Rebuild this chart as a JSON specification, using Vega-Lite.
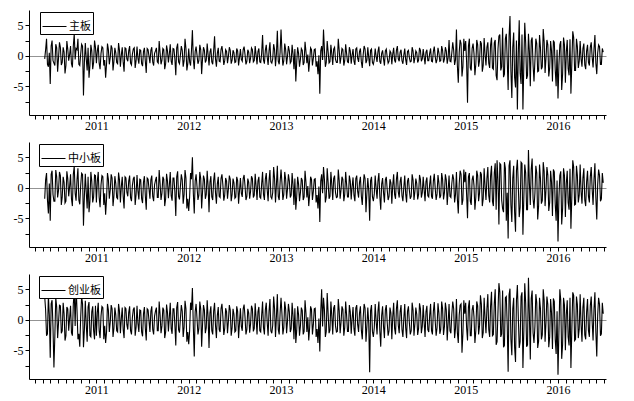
{
"$schema": "https://vega.github.io/schema/vega-lite/v6.json",
"padding": {"left": 13, "top": 10, "right": 5, "bottom": 5},
"background": "white",
"config": {
  "view": {"stroke": null},
  "font": "Liberation Serif",
  "axis": {"domainColor": "black", "tickColor": "black", "labelColor": "black", "labelFont": "Liberation Serif", "labelFontSize": 12, "grid": false, "title": null, "domainWidth": 1, "tickWidth": 1, "tickSize": 4, "labelOverlap": false}
},
"datasets": {"r": [
{"t":2010.44,"a":-0.5,"b":-1.8,"c":3.8},
{"t":2010.46,"a":2.8,"b":2.4,"c":-2.6},
{"t":2010.48,"a":-1.8,"b":-4.2,"c":4.0},
{"t":2010.50,"a":-4.6,"b":-5.4,"c":-6.2},
{"t":2010.52,"a":2.5,"b":2.8,"c":3.2},
{"t":2010.54,"a":-1.2,"b":-2.2,"c":-7.8},
{"t":2010.56,"a":1.9,"b":2.9,"c":3.6},
{"t":2010.58,"a":-2.6,"b":-1.6,"c":-3.0},
{"t":2010.60,"a":2.2,"b":2.6,"c":2.4},
{"t":2010.62,"a":-1.5,"b":-2.8,"c":-2.2},
{"t":2010.64,"a":1.4,"b":1.8,"c":2.8},
{"t":2010.66,"a":-2.9,"b":-2.5,"c":-3.4},
{"t":2010.68,"a":2.4,"b":2.7,"c":2.1},
{"t":2010.70,"a":-0.8,"b":-1.4,"c":-1.8},
{"t":2010.72,"a":1.6,"b":2.2,"c":2.3},
{"t":2010.74,"a":-1.9,"b":-3.0,"c":-2.6},
{"t":2010.76,"a":3.6,"b":3.5,"c":4.6},
{"t":2010.78,"a":1.2,"b":-2.1,"c":5.6},
{"t":2010.80,"a":2.8,"b":3.2,"c":-3.2},
{"t":2010.82,"a":-1.6,"b":-2.7,"c":-4.4},
{"t":2010.84,"a":1.9,"b":2.4,"c":3.8},
{"t":2010.86,"a":-6.5,"b":-6.2,"c":-4.5},
{"t":2010.88,"a":2.1,"b":2.3,"c":3.1},
{"t":2010.90,"a":-2.4,"b":-3.4,"c":-3.6},
{"t":2010.92,"a":-3.6,"b":-4.0,"c":2.9},
{"t":2010.94,"a":1.8,"b":2.6,"c":-2.8},
{"t":2010.96,"a":-2.2,"b":-2.4,"c":2.2},
{"t":2010.98,"a":2.5,"b":2.1,"c":-3.2},
{"t":2011.00,"a":-1.2,"b":-2.4,"c":-2.6},
{"t":2011.02,"a":1.8,"b":2.6,"c":2.8},
{"t":2011.04,"a":-2.2,"b":-3.2,"c":-3.0},
{"t":2011.06,"a":1.5,"b":2.0,"c":2.2},
{"t":2011.08,"a":-1.6,"b":-2.8,"c":-3.2},
{"t":2011.10,"a":-3.6,"b":-4.4,"c":-3.8},
{"t":2011.12,"a":2.0,"b":2.4,"c":2.6},
{"t":2011.14,"a":-1.4,"b":-1.8,"c":-2.0},
{"t":2011.16,"a":1.7,"b":2.2,"c":2.4},
{"t":2011.18,"a":-2.4,"b":-3.0,"c":-2.8},
{"t":2011.20,"a":1.3,"b":1.9,"c":2.0},
{"t":2011.22,"a":-1.1,"b":-1.6,"c":-1.8},
{"t":2011.24,"a":2.1,"b":2.5,"c":2.6},
{"t":2011.26,"a":-1.8,"b":-2.4,"c":-2.2},
{"t":2011.28,"a":1.4,"b":1.8,"c":2.0},
{"t":2011.30,"a":-2.6,"b":-3.4,"c":-3.0},
{"t":2011.32,"a":1.2,"b":1.6,"c":1.8},
{"t":2011.34,"a":-0.9,"b":-1.4,"c":-1.6},
{"t":2011.36,"a":1.6,"b":2.0,"c":2.2},
{"t":2011.38,"a":-1.5,"b":-2.2,"c":-2.4},
{"t":2011.40,"a":1.1,"b":1.5,"c":1.7},
{"t":2011.42,"a":-2.0,"b":-2.8,"c":-2.6},
{"t":2011.44,"a":1.5,"b":2.1,"c":2.3},
{"t":2011.46,"a":-1.3,"b":-1.9,"c":-2.0},
{"t":2011.48,"a":0.9,"b":1.3,"c":1.5},
{"t":2011.50,"a":-1.7,"b":-2.5,"c":-2.7},
{"t":2011.52,"a":1.3,"b":1.9,"c":2.1},
{"t":2011.54,"a":-2.8,"b":-3.6,"c":-3.4},
{"t":2011.56,"a":1.0,"b":1.4,"c":1.6},
{"t":2011.58,"a":-1.2,"b":-1.8,"c":-2.0},
{"t":2011.60,"a":1.4,"b":2.0,"c":2.2},
{"t":2011.62,"a":-1.6,"b":-2.2,"c":-2.4},
{"t":2011.64,"a":0.8,"b":1.2,"c":1.4},
{"t":2011.66,"a":-1.0,"b":-1.6,"c":-1.8},
{"t":2011.68,"a":2.4,"b":2.9,"c":3.0},
{"t":2011.70,"a":-1.4,"b":-2.0,"c":-2.2},
{"t":2011.72,"a":1.2,"b":1.8,"c":2.0},
{"t":2011.74,"a":-2.2,"b":-3.0,"c":-3.0},
{"t":2011.76,"a":1.7,"b":2.3,"c":2.5},
{"t":2011.78,"a":-1.1,"b":-1.7,"c":-1.9},
{"t":2011.80,"a":1.9,"b":2.6,"c":2.8},
{"t":2011.82,"a":-1.5,"b":-2.1,"c":-2.3},
{"t":2011.84,"a":1.1,"b":1.6,"c":1.8},
{"t":2011.86,"a":-3.2,"b":-4.6,"c":-4.2},
{"t":2011.88,"a":2.0,"b":2.7,"c":2.9},
{"t":2011.90,"a":-1.3,"b":-1.9,"c":-2.1},
{"t":2011.92,"a":1.6,"b":2.2,"c":2.4},
{"t":2011.94,"a":-1.8,"b":-2.6,"c":-2.8},
{"t":2011.96,"a":2.8,"b":2.9,"c":3.1},
{"t":2011.98,"a":-2.4,"b":-3.4,"c":-3.6},
{"t":2012.00,"a":1.2,"b":-3.8,"c":-4.0},
{"t":2012.02,"a":-1.6,"b":2.4,"c":2.8},
{"t":2012.04,"a":4.2,"b":5.0,"c":5.2},
{"t":2012.06,"a":-2.2,"b":-4.2,"c":-6.0},
{"t":2012.08,"a":1.5,"b":2.2,"c":2.6},
{"t":2012.10,"a":-1.3,"b":-2.0,"c":-2.4},
{"t":2012.12,"a":1.8,"b":2.6,"c":3.0},
{"t":2012.14,"a":-3.0,"b":-3.4,"c":-4.4},
{"t":2012.16,"a":1.4,"b":2.0,"c":2.4},
{"t":2012.18,"a":-1.1,"b":-1.8,"c":-2.2},
{"t":2012.20,"a":2.0,"b":2.8,"c":3.2},
{"t":2012.22,"a":-1.6,"b":-4.0,"c":-4.6},
{"t":2012.24,"a":1.2,"b":1.9,"c":2.2},
{"t":2012.26,"a":-1.4,"b":-2.0,"c":-2.4},
{"t":2012.28,"a":3.2,"b":2.5,"c":2.8},
{"t":2012.30,"a":-1.8,"b":-2.6,"c":-3.0},
{"t":2012.32,"a":1.3,"b":1.8,"c":2.1},
{"t":2012.34,"a":-1.0,"b":-1.6,"c":-2.0},
{"t":2012.36,"a":1.6,"b":2.2,"c":2.6},
{"t":2012.38,"a":-1.5,"b":-2.1,"c":-2.5},
{"t":2012.40,"a":1.0,"b":1.6,"c":1.9},
{"t":2012.42,"a":-1.2,"b":-1.8,"c":-2.2},
{"t":2012.44,"a":1.4,"b":2.0,"c":2.4},
{"t":2012.46,"a":-1.3,"b":-2.2,"c":-2.6},
{"t":2012.48,"a":0.9,"b":1.5,"c":1.8},
{"t":2012.50,"a":-1.1,"b":-1.7,"c":-2.0},
{"t":2012.52,"a":1.2,"b":1.8,"c":2.2},
{"t":2012.54,"a":-1.6,"b":-2.6,"c":-3.0},
{"t":2012.56,"a":1.1,"b":1.6,"c":1.9},
{"t":2012.58,"a":-0.9,"b":-1.5,"c":-1.8},
{"t":2012.60,"a":1.5,"b":2.1,"c":2.5},
{"t":2012.62,"a":-1.4,"b":-2.0,"c":-2.4},
{"t":2012.64,"a":1.0,"b":1.5,"c":1.8},
{"t":2012.66,"a":-1.2,"b":-1.8,"c":-2.1},
{"t":2012.68,"a":1.3,"b":1.9,"c":2.3},
{"t":2012.70,"a":-1.0,"b":-1.6,"c":-1.9},
{"t":2012.72,"a":1.6,"b":2.3,"c":2.7},
{"t":2012.74,"a":-1.4,"b":-2.0,"c":-2.4},
{"t":2012.76,"a":1.2,"b":1.8,"c":2.1},
{"t":2012.78,"a":-1.1,"b":-1.7,"c":-2.0},
{"t":2012.80,"a":3.4,"b":2.6,"c":3.0},
{"t":2012.82,"a":-1.3,"b":-2.0,"c":-2.4},
{"t":2012.84,"a":1.8,"b":2.4,"c":2.8},
{"t":2012.86,"a":-1.5,"b":-2.2,"c":-2.6},
{"t":2012.88,"a":2.2,"b":2.9,"c":3.4},
{"t":2012.90,"a":-1.2,"b":-1.8,"c":-2.2},
{"t":2012.92,"a":1.9,"b":3.4,"c":3.8},
{"t":2012.94,"a":-1.7,"b":-2.4,"c":-2.8},
{"t":2012.96,"a":4.1,"b":3.6,"c":4.2},
{"t":2012.98,"a":-1.4,"b":-2.0,"c":-2.4},
{"t":2013.00,"a":4.3,"b":3.0,"c":3.6},
{"t":2013.02,"a":-1.6,"b":-2.0,"c":-2.4},
{"t":2013.04,"a":2.0,"b":2.6,"c":3.0},
{"t":2013.06,"a":-1.4,"b":-1.8,"c":-2.2},
{"t":2013.08,"a":1.6,"b":2.2,"c":2.6},
{"t":2013.10,"a":-1.2,"b":-1.6,"c":-2.0},
{"t":2013.12,"a":1.8,"b":2.4,"c":2.8},
{"t":2013.14,"a":-2.2,"b":-2.8,"c":-3.2},
{"t":2013.16,"a":-4.2,"b":-3.6,"c":-3.8},
{"t":2013.18,"a":1.4,"b":1.8,"c":2.2},
{"t":2013.20,"a":-1.8,"b":-2.2,"c":-2.6},
{"t":2013.22,"a":1.2,"b":1.6,"c":2.0},
{"t":2013.24,"a":-1.5,"b":-2.0,"c":-2.4},
{"t":2013.26,"a":2.3,"b":2.8,"c":3.2},
{"t":2013.28,"a":-1.2,"b":-1.6,"c":-2.0},
{"t":2013.30,"a":-2.6,"b":-3.0,"c":-3.4},
{"t":2013.32,"a":1.3,"b":1.8,"c":2.2},
{"t":2013.34,"a":-1.6,"b":-2.0,"c":-2.4},
{"t":2013.36,"a":1.0,"b":1.4,"c":1.8},
{"t":2013.38,"a":-1.8,"b":-2.4,"c":-2.8},
{"t":2013.40,"a":-3.0,"b":-3.4,"c":-3.8},
{"t":2013.42,"a":-6.2,"b":-5.6,"c":-5.2},
{"t":2013.44,"a":1.6,"b":2.2,"c":5.0},
{"t":2013.46,"a":4.3,"b":3.4,"c":3.6},
{"t":2013.48,"a":-1.8,"b":-2.4,"c":-2.8},
{"t":2013.50,"a":2.4,"b":3.2,"c":4.4},
{"t":2013.52,"a":-1.2,"b":-1.8,"c":-2.2},
{"t":2013.54,"a":1.8,"b":2.6,"c":3.0},
{"t":2013.56,"a":-1.5,"b":-2.0,"c":-2.4},
{"t":2013.58,"a":1.4,"b":2.0,"c":2.4},
{"t":2013.60,"a":-1.1,"b":-1.6,"c":-2.0},
{"t":2013.62,"a":2.8,"b":3.0,"c":3.4},
{"t":2013.64,"a":-1.3,"b":-1.8,"c":-2.2},
{"t":2013.66,"a":1.2,"b":1.8,"c":2.2},
{"t":2013.68,"a":-1.6,"b":-2.2,"c":-2.6},
{"t":2013.70,"a":1.9,"b":2.6,"c":3.0},
{"t":2013.72,"a":-1.0,"b":-1.5,"c":-1.9},
{"t":2013.74,"a":1.4,"b":2.0,"c":2.4},
{"t":2013.76,"a":-1.3,"b":-1.9,"c":-2.3},
{"t":2013.78,"a":1.1,"b":1.7,"c":2.1},
{"t":2013.80,"a":-1.5,"b":-2.2,"c":-2.6},
{"t":2013.82,"a":1.3,"b":2.0,"c":2.4},
{"t":2013.84,"a":-1.0,"b":-1.6,"c":-2.0},
{"t":2013.86,"a":1.2,"b":1.8,"c":2.2},
{"t":2013.88,"a":-2.0,"b":-2.8,"c":-3.2},
{"t":2013.90,"a":1.6,"b":2.2,"c":2.6},
{"t":2013.92,"a":-1.2,"b":-4.0,"c":-3.6},
{"t":2013.94,"a":1.4,"b":1.6,"c":2.0},
{"t":2013.96,"a":-1.7,"b":-5.4,"c":-8.6},
{"t":2013.98,"a":1.1,"b":1.8,"c":2.4},
{"t":2014.00,"a":-1.4,"b":-2.2,"c":-2.8},
{"t":2014.02,"a":1.2,"b":2.0,"c":2.6},
{"t":2014.04,"a":-1.0,"b":-1.8,"c":-2.4},
{"t":2014.06,"a":1.5,"b":2.4,"c":3.0},
{"t":2014.08,"a":-1.3,"b":-3.6,"c":-4.4},
{"t":2014.10,"a":0.9,"b":1.6,"c":2.2},
{"t":2014.12,"a":-1.6,"b":-2.4,"c":-3.0},
{"t":2014.14,"a":1.1,"b":1.8,"c":2.4},
{"t":2014.16,"a":-1.2,"b":-2.0,"c":-2.6},
{"t":2014.18,"a":0.8,"b":1.4,"c":2.0},
{"t":2014.20,"a":-1.4,"b":-2.6,"c":-3.2},
{"t":2014.22,"a":1.3,"b":2.2,"c":2.8},
{"t":2014.24,"a":-1.1,"b":-1.8,"c":-2.4},
{"t":2014.26,"a":1.6,"b":2.6,"c":3.2},
{"t":2014.28,"a":-0.9,"b":-1.6,"c":-2.2},
{"t":2014.30,"a":1.0,"b":1.8,"c":2.4},
{"t":2014.32,"a":-1.3,"b":-2.2,"c":-2.8},
{"t":2014.34,"a":1.2,"b":2.0,"c":2.6},
{"t":2014.36,"a":-1.5,"b":-2.4,"c":-3.0},
{"t":2014.38,"a":0.9,"b":1.6,"c":2.2},
{"t":2014.40,"a":-1.0,"b":-1.8,"c":-2.4},
{"t":2014.42,"a":1.4,"b":2.2,"c":2.8},
{"t":2014.44,"a":-1.2,"b":-2.0,"c":-2.6},
{"t":2014.46,"a":0.8,"b":1.5,"c":2.0},
{"t":2014.48,"a":-1.1,"b":-1.9,"c":-2.5},
{"t":2014.50,"a":1.3,"b":2.1,"c":2.7},
{"t":2014.52,"a":-0.9,"b":-1.6,"c":-2.2},
{"t":2014.54,"a":1.1,"b":1.8,"c":2.4},
{"t":2014.56,"a":-1.4,"b":-2.2,"c":-2.8},
{"t":2014.58,"a":1.0,"b":1.7,"c":2.3},
{"t":2014.60,"a":-0.8,"b":-1.5,"c":-2.0},
{"t":2014.62,"a":1.2,"b":2.0,"c":2.6},
{"t":2014.64,"a":-1.0,"b":-1.8,"c":-2.4},
{"t":2014.66,"a":1.5,"b":2.3,"c":2.9},
{"t":2014.68,"a":-1.2,"b":-2.0,"c":-2.6},
{"t":2014.70,"a":1.3,"b":2.1,"c":2.7},
{"t":2014.72,"a":-0.9,"b":-1.7,"c":-2.3},
{"t":2014.74,"a":1.6,"b":2.4,"c":3.0},
{"t":2014.76,"a":-1.1,"b":-1.9,"c":-2.5},
{"t":2014.78,"a":1.4,"b":2.2,"c":2.8},
{"t":2014.80,"a":-1.3,"b":-2.8,"c":-3.4},
{"t":2014.82,"a":2.6,"b":2.0,"c":2.6},
{"t":2014.84,"a":-1.0,"b":-1.6,"c":-2.2},
{"t":2014.86,"a":2.2,"b":2.2,"c":3.0},
{"t":2014.88,"a":-1.5,"b":-2.4,"c":-3.0},
{"t":2014.90,"a":4.3,"b":2.6,"c":3.4},
{"t":2014.92,"a":-4.4,"b":-4.2,"c":-3.8},
{"t":2014.94,"a":2.6,"b":2.8,"c":2.4},
{"t":2014.96,"a":-3.4,"b":-2.8,"c":-5.4},
{"t":2014.98,"a":2.8,"b":3.0,"c":3.2},
{"t":2015.00,"a":2.4,"b":2.6,"c":2.8},
{"t":2015.02,"a":-7.7,"b":-5.0,"c":-3.4},
{"t":2015.04,"a":2.8,"b":2.4,"c":3.2},
{"t":2015.06,"a":-2.4,"b":-2.8,"c":-2.6},
{"t":2015.08,"a":2.0,"b":2.0,"c":2.4},
{"t":2015.10,"a":-3.2,"b":-3.6,"c":-3.8},
{"t":2015.12,"a":2.6,"b":2.8,"c":3.0},
{"t":2015.14,"a":-1.8,"b":-2.2,"c":-2.4},
{"t":2015.16,"a":2.4,"b":2.6,"c":4.0},
{"t":2015.18,"a":-2.6,"b":-3.0,"c":-3.0},
{"t":2015.20,"a":2.9,"b":3.2,"c":3.6},
{"t":2015.22,"a":-1.6,"b":-2.0,"c":-2.2},
{"t":2015.24,"a":2.2,"b":3.4,"c":4.2},
{"t":2015.26,"a":-2.0,"b":-2.4,"c":-2.8},
{"t":2015.28,"a":3.0,"b":3.6,"c":4.6},
{"t":2015.30,"a":-2.2,"b":-3.0,"c":-2.4},
{"t":2015.32,"a":2.6,"b":4.0,"c":5.0},
{"t":2015.34,"a":-4.0,"b":4.5,"c":-3.6},
{"t":2015.36,"a":3.2,"b":-6.0,"c":6.0},
{"t":2015.38,"a":-2.4,"b":3.8,"c":-2.8},
{"t":2015.40,"a":4.6,"b":-3.4,"c":4.8},
{"t":2015.42,"a":-3.0,"b":4.2,"c":-4.2},
{"t":2015.44,"a":3.6,"b":-5.4,"c":3.8},
{"t":2015.46,"a":-5.6,"b":-8.3,"c":-8.5},
{"t":2015.48,"a":6.5,"b":4.5,"c":5.1},
{"t":2015.50,"a":-6.9,"b":-5.6,"c":-5.8},
{"t":2015.52,"a":3.8,"b":3.6,"c":3.6},
{"t":2015.54,"a":-5.2,"b":-7.2,"c":-6.9},
{"t":2015.56,"a":-8.8,"b":4.6,"c":5.7},
{"t":2015.58,"a":5.8,"b":-4.8,"c":-4.6},
{"t":2015.60,"a":-4.6,"b":4.2,"c":3.8},
{"t":2015.62,"a":-8.8,"b":-7.7,"c":-7.9},
{"t":2015.64,"a":5.4,"b":3.8,"c":6.0},
{"t":2015.66,"a":-3.8,"b":-3.6,"c":-4.4},
{"t":2015.68,"a":3.6,"b":6.2,"c":6.9},
{"t":2015.70,"a":-5.0,"b":-2.8,"c":-6.5},
{"t":2015.72,"a":3.0,"b":4.8,"c":4.8},
{"t":2015.74,"a":-4.2,"b":-3.4,"c":-3.8},
{"t":2015.76,"a":2.8,"b":3.6,"c":4.2},
{"t":2015.78,"a":-2.6,"b":-5.2,"c":-4.6},
{"t":2015.80,"a":3.4,"b":3.8,"c":3.6},
{"t":2015.82,"a":-2.2,"b":-2.6,"c":-3.2},
{"t":2015.84,"a":4.4,"b":4.2,"c":5.0},
{"t":2015.86,"a":-2.8,"b":-3.0,"c":-3.6},
{"t":2015.88,"a":2.6,"b":3.4,"c":3.8},
{"t":2015.90,"a":-3.4,"b":-3.8,"c":-4.5},
{"t":2015.92,"a":2.4,"b":2.8,"c":3.4},
{"t":2015.94,"a":-4.2,"b":-4.6,"c":-4.8},
{"t":2015.96,"a":2.2,"b":2.6,"c":3.0},
{"t":2015.98,"a":-5.0,"b":-5.4,"c":-5.6},
{"t":2016.00,"a":-7.0,"b":-8.8,"c":-9.0},
{"t":2016.02,"a":1.8,"b":2.0,"c":5.0},
{"t":2016.04,"a":-5.6,"b":-6.0,"c":-6.4},
{"t":2016.06,"a":3.0,"b":3.2,"c":3.6},
{"t":2016.08,"a":-4.4,"b":-4.8,"c":-5.0},
{"t":2016.10,"a":2.6,"b":2.8,"c":3.2},
{"t":2016.12,"a":-3.2,"b":-3.6,"c":-4.2},
{"t":2016.14,"a":-6.2,"b":-6.7,"c":-7.9},
{"t":2016.16,"a":4.0,"b":4.5,"c":4.5},
{"t":2016.18,"a":-2.4,"b":-2.8,"c":-3.4},
{"t":2016.20,"a":2.8,"b":3.6,"c":3.8},
{"t":2016.22,"a":-2.0,"b":-2.4,"c":-3.0},
{"t":2016.24,"a":2.4,"b":3.8,"c":4.2},
{"t":2016.26,"a":-1.8,"b":-2.6,"c":-3.6},
{"t":2016.28,"a":2.0,"b":3.2,"c":3.6},
{"t":2016.30,"a":-2.2,"b":-3.0,"c":-3.2},
{"t":2016.32,"a":1.8,"b":2.8,"c":3.4},
{"t":2016.34,"a":-1.6,"b":-2.4,"c":-2.8},
{"t":2016.36,"a":2.2,"b":3.4,"c":3.8},
{"t":2016.38,"a":-1.9,"b":-2.8,"c":-3.4},
{"t":2016.40,"a":3.4,"b":4.0,"c":4.5},
{"t":2016.42,"a":-3.0,"b":-5.2,"c":-6.0},
{"t":2016.44,"a":1.8,"b":3.0,"c":3.6},
{"t":2016.46,"a":-1.4,"b":-2.2,"c":-2.6},
{"t":2016.48,"a":1.2,"b":2.4,"c":2.8},
{"t":2010.45,"a":1.0,"b":1.3,"c":1.6},
{"t":2010.47,"a":-1.4,"b":-2.0,"c":-2.3},
{"t":2010.49,"a":0.5,"b":0.7,"c":0.8},
{"t":2010.51,"a":1.6,"b":2.2,"c":2.6},
{"t":2010.53,"a":-0.8,"b":-1.1,"c":-1.3},
{"t":2010.55,"a":-1.6,"b":-2.2,"c":-2.6},
{"t":2010.57,"a":1.3,"b":1.8,"c":2.1},
{"t":2010.59,"a":-0.3,"b":-0.4,"c":-0.5},
{"t":2010.61,"a":1.4,"b":2.0,"c":2.3},
{"t":2010.63,"a":-1.1,"b":-1.5,"c":-1.8},
{"t":2010.65,"a":0.6,"b":0.9,"c":1.0},
{"t":2010.67,"a":-1.6,"b":-2.2,"c":-2.6},
{"t":2010.69,"a":1.1,"b":1.5,"c":1.8},
{"t":2010.71,"a":0.2,"b":0.2,"c":0.3},
{"t":2010.73,"a":-1.3,"b":-1.8,"c":-2.1},
{"t":2010.75,"a":1.6,"b":2.2,"c":2.6},
{"t":2010.77,"a":-0.6,"b":-0.9,"c":-1.0},
{"t":2010.79,"a":1.0,"b":1.3,"c":1.6},
{"t":2010.81,"a":-1.4,"b":-2.0,"c":-2.3},
{"t":2010.83,"a":0.3,"b":0.4,"c":0.5},
{"t":2010.85,"a":1.6,"b":2.2,"c":2.6},
{"t":2010.87,"a":-1.0,"b":-1.3,"c":-1.6},
{"t":2010.89,"a":-0.5,"b":-0.7,"c":-0.8},
{"t":2010.91,"a":1.3,"b":1.8,"c":2.1},
{"t":2010.93,"a":-1.6,"b":-2.2,"c":-2.6},
{"t":2010.95,"a":0.8,"b":1.1,"c":1.3},
{"t":2010.97,"a":-1.1,"b":-1.5,"c":-1.8},
{"t":2010.99,"a":1.4,"b":2.0,"c":2.3},
{"t":2011.01,"a":0.8,"b":1.1,"c":1.2},
{"t":2011.03,"a":-1.2,"b":-1.6,"c":-1.8},
{"t":2011.05,"a":0.4,"b":0.5,"c":0.6},
{"t":2011.07,"a":1.3,"b":1.8,"c":2.0},
{"t":2011.09,"a":-0.7,"b":-0.9,"c":-1.0},
{"t":2011.11,"a":-1.3,"b":-1.8,"c":-2.0},
{"t":2011.13,"a":1.0,"b":1.4,"c":1.6},
{"t":2011.15,"a":-0.3,"b":-0.4,"c":-0.4},
{"t":2011.17,"a":1.2,"b":1.6,"c":1.8},
{"t":2011.19,"a":-0.9,"b":-1.3,"c":-1.4},
{"t":2011.21,"a":0.5,"b":0.7,"c":0.8},
{"t":2011.23,"a":-1.3,"b":-1.8,"c":-2.0},
{"t":2011.25,"a":0.9,"b":1.3,"c":1.4},
{"t":2011.27,"a":0.1,"b":0.2,"c":0.2},
{"t":2011.29,"a":-1.0,"b":-1.4,"c":-1.6},
{"t":2011.31,"a":1.3,"b":1.8,"c":2.0},
{"t":2011.33,"a":-0.5,"b":-0.7,"c":-0.8},
{"t":2011.35,"a":0.8,"b":1.1,"c":1.2},
{"t":2011.37,"a":-1.2,"b":-1.6,"c":-1.8},
{"t":2011.39,"a":0.3,"b":0.4,"c":0.4},
{"t":2011.41,"a":1.3,"b":1.8,"c":2.0},
{"t":2011.43,"a":-0.8,"b":-1.1,"c":-1.2},
{"t":2011.45,"a":-0.4,"b":-0.5,"c":-0.6},
{"t":2011.47,"a":1.0,"b":1.4,"c":1.6},
{"t":2011.49,"a":-1.3,"b":-1.8,"c":-2.0},
{"t":2011.51,"a":0.7,"b":0.9,"c":1.0},
{"t":2011.53,"a":-0.9,"b":-1.3,"c":-1.4},
{"t":2011.55,"a":1.2,"b":1.6,"c":1.8},
{"t":2011.57,"a":-0.1,"b":-0.2,"c":-0.2},
{"t":2011.59,"a":0.9,"b":1.3,"c":1.4},
{"t":2011.61,"a":-1.0,"b":-1.4,"c":-1.6},
{"t":2011.63,"a":0.4,"b":0.5,"c":0.6},
{"t":2011.65,"a":1.3,"b":1.8,"c":2.0},
{"t":2011.67,"a":-1.2,"b":-1.6,"c":-1.8},
{"t":2011.69,"a":0.5,"b":0.7,"c":0.8},
{"t":2011.71,"a":-0.7,"b":-0.9,"c":-1.0},
{"t":2011.73,"a":1.0,"b":1.4,"c":1.6},
{"t":2011.75,"a":-1.3,"b":-1.8,"c":-2.0},
{"t":2011.77,"a":0.8,"b":1.1,"c":1.2},
{"t":2011.79,"a":0.3,"b":0.4,"c":0.4},
{"t":2011.81,"a":-0.9,"b":-1.3,"c":-1.4},
{"t":2011.83,"a":1.2,"b":1.6,"c":1.8},
{"t":2011.85,"a":-0.5,"b":-0.7,"c":-0.8},
{"t":2011.87,"a":1.3,"b":1.8,"c":2.0},
{"t":2011.89,"a":-1.0,"b":-1.4,"c":-1.6},
{"t":2011.91,"a":0.1,"b":0.2,"c":0.2},
{"t":2011.93,"a":0.9,"b":1.3,"c":1.4},
{"t":2011.95,"a":-0.8,"b":-1.1,"c":-1.2},
{"t":2011.97,"a":1.2,"b":1.6,"c":1.8},
{"t":2011.99,"a":-1.3,"b":-1.8,"c":-2.0},
{"t":2012.01,"a":-1.0,"b":-1.5,"c":-1.8},
{"t":2012.03,"a":0.9,"b":1.4,"c":1.6},
{"t":2012.05,"a":-0.6,"b":-0.9,"c":-1.1},
{"t":2012.07,"a":0.7,"b":1.1,"c":1.3},
{"t":2012.09,"a":0.1,"b":0.2,"c":0.2},
{"t":2012.11,"a":-0.8,"b":-1.2,"c":-1.4},
{"t":2012.13,"a":1.0,"b":1.5,"c":1.8},
{"t":2012.15,"a":-0.4,"b":-0.6,"c":-0.7},
{"t":2012.17,"a":0.9,"b":1.4,"c":1.6},
{"t":2012.19,"a":-0.7,"b":-1.1,"c":-1.3},
{"t":2012.21,"a":0.2,"b":0.3,"c":0.4},
{"t":2012.23,"a":0.6,"b":0.9,"c":1.1},
{"t":2012.25,"a":-1.0,"b":-1.5,"c":-1.8},
{"t":2012.27,"a":0.8,"b":1.2,"c":1.4},
{"t":2012.29,"a":-0.5,"b":-0.8,"c":-0.9},
{"t":2012.31,"a":0.4,"b":0.6,"c":0.7},
{"t":2012.33,"a":-0.9,"b":-1.4,"c":-1.6},
{"t":2012.35,"a":1.0,"b":1.5,"c":1.8},
{"t":2012.37,"a":0.3,"b":0.5,"c":0.5},
{"t":2012.39,"a":-0.8,"b":-1.2,"c":-1.4},
{"t":2012.41,"a":0.7,"b":1.1,"c":1.3},
{"t":2012.43,"a":-0.1,"b":-0.2,"c":-0.2},
{"t":2012.45,"a":0.9,"b":1.4,"c":1.6},
{"t":2012.47,"a":-0.7,"b":-1.1,"c":-1.3},
{"t":2012.49,"a":0.5,"b":0.8,"c":0.9},
{"t":2012.51,"a":-1.0,"b":-1.5,"c":-1.8},
{"t":2012.53,"a":0.8,"b":1.2,"c":1.4},
{"t":2012.55,"a":-0.3,"b":-0.5,"c":-0.5},
{"t":2012.57,"a":-0.6,"b":-0.9,"c":-1.1},
{"t":2012.59,"a":1.0,"b":1.5,"c":1.8},
{"t":2012.61,"a":0.2,"b":0.3,"c":0.4},
{"t":2012.63,"a":-0.9,"b":-1.4,"c":-1.6},
{"t":2012.65,"a":0.6,"b":0.9,"c":1.1},
{"t":2012.67,"a":-0.4,"b":-0.6,"c":-0.7},
{"t":2012.69,"a":1.0,"b":1.5,"c":1.8},
{"t":2012.71,"a":-0.8,"b":-1.2,"c":-1.4},
{"t":2012.73,"a":0.1,"b":0.2,"c":0.2},
{"t":2012.75,"a":0.7,"b":1.1,"c":1.3},
{"t":2012.77,"a":-1.0,"b":-1.5,"c":-1.8},
{"t":2012.79,"a":0.4,"b":0.6,"c":0.7},
{"t":2012.81,"a":-0.7,"b":-1.1,"c":-1.3},
{"t":2012.83,"a":0.9,"b":1.4,"c":1.6},
{"t":2012.85,"a":-0.2,"b":-0.3,"c":-0.4},
{"t":2012.87,"a":0.8,"b":1.2,"c":1.4},
{"t":2012.89,"a":-1.0,"b":-1.5,"c":-1.8},
{"t":2012.91,"a":-0.5,"b":-0.8,"c":-0.9},
{"t":2012.93,"a":1.0,"b":1.5,"c":1.8},
{"t":2012.95,"a":0.3,"b":0.5,"c":0.5},
{"t":2012.97,"a":-0.9,"b":-1.4,"c":-1.6},
{"t":2012.99,"a":0.6,"b":0.9,"c":1.1},
{"t":2013.01,"a":0.6,"b":0.8,"c":1.0},
{"t":2013.03,"a":-0.8,"b":-1.1,"c":-1.3},
{"t":2013.05,"a":1.0,"b":1.4,"c":1.7},
{"t":2013.07,"a":-0.1,"b":-0.2,"c":-0.2},
{"t":2013.09,"a":0.8,"b":1.1,"c":1.3},
{"t":2013.11,"a":-0.9,"b":-1.2,"c":-1.5},
{"t":2013.13,"a":0.3,"b":0.5,"c":0.6},
{"t":2013.15,"a":1.1,"b":1.5,"c":1.9},
{"t":2013.17,"a":-1.0,"b":-1.4,"c":-1.7},
{"t":2013.19,"a":0.4,"b":0.6,"c":0.8},
{"t":2013.21,"a":-0.6,"b":-0.8,"c":-1.0},
{"t":2013.23,"a":0.9,"b":1.2,"c":1.5},
{"t":2013.25,"a":-1.1,"b":-1.5,"c":-1.9},
{"t":2013.27,"a":0.7,"b":0.9,"c":1.1},
{"t":2013.29,"a":0.2,"b":0.3,"c":0.4},
{"t":2013.31,"a":-0.8,"b":-1.1,"c":-1.3},
{"t":2013.33,"a":1.0,"b":1.4,"c":1.7},
{"t":2013.35,"a":-0.4,"b":-0.6,"c":-0.8},
{"t":2013.37,"a":1.1,"b":1.5,"c":1.9},
{"t":2013.39,"a":-0.9,"b":-1.2,"c":-1.5},
{"t":2013.41,"a":0.1,"b":0.2,"c":0.2},
{"t":2013.43,"a":0.8,"b":1.1,"c":1.3},
{"t":2013.45,"a":-0.7,"b":-0.9,"c":-1.1},
{"t":2013.47,"a":1.0,"b":1.4,"c":1.7},
{"t":2013.49,"a":-1.1,"b":-1.5,"c":-1.9},
{"t":2013.51,"a":0.7,"b":0.9,"c":1.1},
{"t":2013.53,"a":-1.0,"b":-1.4,"c":-1.7},
{"t":2013.55,"a":0.3,"b":0.5,"c":0.6},
{"t":2013.57,"a":1.1,"b":1.5,"c":1.9},
{"t":2013.59,"a":-0.6,"b":-0.8,"c":-1.0},
{"t":2013.61,"a":-1.1,"b":-1.5,"c":-1.9},
{"t":2013.63,"a":0.9,"b":1.2,"c":1.5},
{"t":2013.65,"a":-0.2,"b":-0.3,"c":-0.4},
{"t":2013.67,"a":1.0,"b":1.4,"c":1.7},
{"t":2013.69,"a":-0.8,"b":-1.1,"c":-1.3},
{"t":2013.71,"a":0.4,"b":0.6,"c":0.8},
{"t":2013.73,"a":-1.1,"b":-1.5,"c":-1.9},
{"t":2013.75,"a":0.8,"b":1.1,"c":1.3},
{"t":2013.77,"a":0.1,"b":0.2,"c":0.2},
{"t":2013.79,"a":-0.9,"b":-1.2,"c":-1.5},
{"t":2013.81,"a":1.1,"b":1.5,"c":1.9},
{"t":2013.83,"a":-0.4,"b":-0.6,"c":-0.8},
{"t":2013.85,"a":0.7,"b":0.9,"c":1.1},
{"t":2013.87,"a":-1.0,"b":-1.4,"c":-1.7},
{"t":2013.89,"a":0.2,"b":0.3,"c":0.4},
{"t":2013.91,"a":1.1,"b":1.5,"c":1.9},
{"t":2013.93,"a":-0.7,"b":-0.9,"c":-1.1},
{"t":2013.95,"a":-0.3,"b":-0.5,"c":-0.6},
{"t":2013.97,"a":0.9,"b":1.2,"c":1.5},
{"t":2013.99,"a":-1.1,"b":-1.5,"c":-1.9},
{"t":2014.01,"a":-0.6,"b":-1.0,"c":-1.3},
{"t":2014.03,"a":-0.1,"b":-0.1,"c":-0.2},
{"t":2014.05,"a":0.7,"b":1.1,"c":1.4},
{"t":2014.07,"a":-0.9,"b":-1.4,"c":-1.8},
{"t":2014.09,"a":0.4,"b":0.6,"c":0.7},
{"t":2014.11,"a":-0.5,"b":-0.8,"c":-1.1},
{"t":2014.13,"a":0.8,"b":1.3,"c":1.6},
{"t":2014.15,"a":-0.2,"b":-0.3,"c":-0.4},
{"t":2014.17,"a":-0.9,"b":-1.4,"c":-1.8},
{"t":2014.19,"a":0.5,"b":0.8,"c":1.1},
{"t":2014.21,"a":0.3,"b":0.4,"c":0.5},
{"t":2014.23,"a":-0.7,"b":-1.1,"c":-1.4},
{"t":2014.25,"a":0.9,"b":1.4,"c":1.8},
{"t":2014.27,"a":-0.5,"b":-0.7,"c":-0.9},
{"t":2014.29,"a":0.6,"b":1.0,"c":1.3},
{"t":2014.31,"a":-0.8,"b":-1.3,"c":-1.6},
{"t":2014.33,"a":0.1,"b":0.1,"c":0.2},
{"t":2014.35,"a":-0.6,"b":-1.0,"c":-1.3},
{"t":2014.37,"a":0.7,"b":1.1,"c":1.4},
{"t":2014.39,"a":-0.3,"b":-0.4,"c":-0.5},
{"t":2014.41,"a":-0.9,"b":-1.4,"c":-1.8},
{"t":2014.43,"a":0.8,"b":1.3,"c":1.6},
{"t":2014.45,"a":-0.4,"b":-0.6,"c":-0.7},
{"t":2014.47,"a":0.5,"b":0.7,"c":0.9},
{"t":2014.49,"a":-0.7,"b":-1.1,"c":-1.4},
{"t":2014.51,"a":0.9,"b":1.4,"c":1.8},
{"t":2014.53,"a":-0.5,"b":-0.8,"c":-1.1},
{"t":2014.55,"a":-0.2,"b":-0.3,"c":-0.4},
{"t":2014.57,"a":0.6,"b":1.0,"c":1.3},
{"t":2014.59,"a":-0.8,"b":-1.3,"c":-1.6},
{"t":2014.61,"a":0.4,"b":0.6,"c":0.7},
{"t":2014.63,"a":-0.9,"b":-1.4,"c":-1.8},
{"t":2014.65,"a":0.7,"b":1.1,"c":1.4},
{"t":2014.67,"a":-0.1,"b":-0.1,"c":-0.2},
{"t":2014.69,"a":-0.6,"b":-1.0,"c":-1.3},
{"t":2014.71,"a":0.5,"b":0.8,"c":1.1},
{"t":2014.73,"a":-0.8,"b":-1.3,"c":-1.6},
{"t":2014.75,"a":0.9,"b":1.4,"c":1.8},
{"t":2014.77,"a":-0.5,"b":-0.8,"c":-1.1},
{"t":2014.79,"a":0.8,"b":1.3,"c":1.6},
{"t":2014.81,"a":-0.3,"b":-0.4,"c":-0.5},
{"t":2014.83,"a":-0.9,"b":-1.4,"c":-1.8},
{"t":2014.85,"a":0.5,"b":0.7,"c":0.9},
{"t":2014.87,"a":0.9,"b":1.4,"c":1.8},
{"t":2014.89,"a":-0.7,"b":-1.1,"c":-1.4},
{"t":2014.91,"a":-1.6,"b":-1.8,"c":-2.1},
{"t":2014.93,"a":0.6,"b":0.7,"c":0.8},
{"t":2014.95,"a":2.0,"b":2.2,"c":2.6},
{"t":2014.97,"a":-1.8,"b":-2.0,"c":-2.3},
{"t":2014.99,"a":0.8,"b":0.9,"c":1.0},
{"t":2015.01,"a":-1.0,"b":-1.1,"c":-1.3},
{"t":2015.03,"a":1.6,"b":1.8,"c":2.1},
{"t":2015.05,"a":-2.0,"b":-2.2,"c":-2.6},
{"t":2015.07,"a":1.2,"b":1.3,"c":1.6},
{"t":2015.09,"a":0.4,"b":0.4,"c":0.5},
{"t":2015.11,"a":-1.4,"b":-1.5,"c":-1.8},
{"t":2015.13,"a":1.8,"b":2.0,"c":2.3},
{"t":2015.15,"a":-0.8,"b":-0.9,"c":-1.0},
{"t":2015.17,"a":2.0,"b":2.2,"c":2.6},
{"t":2015.19,"a":-1.6,"b":-1.8,"c":-2.1},
{"t":2015.21,"a":0.2,"b":0.2,"c":0.3},
{"t":2015.23,"a":1.4,"b":1.5,"c":1.8},
{"t":2015.25,"a":-1.2,"b":-1.3,"c":-1.6},
{"t":2015.27,"a":1.8,"b":2.0,"c":2.3},
{"t":2015.29,"a":-2.0,"b":-2.2,"c":-2.6},
{"t":2015.31,"a":2.1,"b":2.4,"c":2.7},
{"t":2015.33,"a":-3.2,"b":-3.6,"c":-4.1},
{"t":2015.35,"a":1.1,"b":1.2,"c":1.4},
{"t":2015.37,"a":3.5,"b":4.0,"c":4.5},
{"t":2015.39,"a":-1.8,"b":-2.0,"c":-2.3},
{"t":2015.41,"a":-3.5,"b":-4.0,"c":-4.5},
{"t":2015.43,"a":2.8,"b":3.2,"c":3.6},
{"t":2015.45,"a":-0.7,"b":-0.8,"c":-0.9},
{"t":2015.47,"a":3.2,"b":3.6,"c":4.1},
{"t":2015.49,"a":-2.5,"b":-2.8,"c":-3.2},
{"t":2015.51,"a":1.4,"b":1.6,"c":1.8},
{"t":2015.53,"a":-3.5,"b":-4.0,"c":-4.5},
{"t":2015.55,"a":2.5,"b":2.8,"c":3.2},
{"t":2015.57,"a":0.4,"b":0.4,"c":0.5},
{"t":2015.59,"a":-2.8,"b":-3.2,"c":-3.6},
{"t":2015.61,"a":3.5,"b":4.0,"c":4.5},
{"t":2015.63,"a":-1.4,"b":-1.6,"c":-1.8},
{"t":2015.65,"a":2.1,"b":2.4,"c":2.7},
{"t":2015.67,"a":-3.2,"b":-3.6,"c":-4.1},
{"t":2015.69,"a":0.7,"b":0.8,"c":0.9},
{"t":2015.71,"a":2.5,"b":3.0,"c":3.5},
{"t":2015.73,"a":-1.5,"b":-1.8,"c":-2.1},
{"t":2015.75,"a":-0.8,"b":-0.9,"c":-1.1},
{"t":2015.77,"a":2.0,"b":2.4,"c":2.8},
{"t":2015.79,"a":-2.5,"b":-3.0,"c":-3.5},
{"t":2015.81,"a":1.3,"b":1.5,"c":1.8},
{"t":2015.83,"a":-1.8,"b":-2.1,"c":-2.5},
{"t":2015.85,"a":2.3,"b":2.7,"c":3.2},
{"t":2015.87,"a":-0.3,"b":-0.3,"c":-0.4},
{"t":2015.89,"a":1.8,"b":2.1,"c":2.5},
{"t":2015.91,"a":-2.0,"b":-2.4,"c":-2.8},
{"t":2015.93,"a":0.8,"b":0.9,"c":1.1},
{"t":2015.95,"a":2.5,"b":3.0,"c":3.5},
{"t":2015.97,"a":-2.3,"b":-2.7,"c":-3.2},
{"t":2015.99,"a":1.0,"b":1.2,"c":1.4},
{"t":2016.01,"a":-1.5,"b":-1.7,"c":-2.0},
{"t":2016.03,"a":2.4,"b":2.7,"c":3.2},
{"t":2016.05,"a":-3.0,"b":-3.4,"c":-4.0},
{"t":2016.07,"a":1.8,"b":2.0,"c":2.4},
{"t":2016.09,"a":0.6,"b":0.7,"c":0.8},
{"t":2016.11,"a":-2.1,"b":-2.4,"c":-2.8},
{"t":2016.13,"a":2.7,"b":3.1,"c":3.6},
{"t":2016.15,"a":-1.2,"b":-1.4,"c":-1.6},
{"t":2016.17,"a":3.0,"b":3.4,"c":4.0},
{"t":2016.19,"a":-2.4,"b":-2.7,"c":-3.2},
{"t":2016.21,"a":1.5,"b":2.0,"c":2.5},
{"t":2016.23,"a":-0.9,"b":-1.2,"c":-1.5},
{"t":2016.25,"a":-0.5,"b":-0.6,"c":-0.8},
{"t":2016.27,"a":1.2,"b":1.6,"c":2.0},
{"t":2016.29,"a":-1.5,"b":-2.0,"c":-2.5},
{"t":2016.31,"a":0.8,"b":1.0,"c":1.3},
{"t":2016.33,"a":-1.1,"b":-1.4,"c":-1.8},
{"t":2016.35,"a":1.4,"b":1.8,"c":2.3},
{"t":2016.37,"a":-0.2,"b":-0.2,"c":-0.3},
{"t":2016.39,"a":1.1,"b":1.4,"c":1.8},
{"t":2016.41,"a":-1.2,"b":-1.6,"c":-2.0},
{"t":2016.43,"a":0.5,"b":0.6,"c":0.8},
{"t":2016.45,"a":1.5,"b":2.0,"c":2.5},
{"t":2016.47,"a":-1.4,"b":-1.8,"c":-2.3},
{"t":2016.49,"a":0.6,"b":0.8,"c":1.0}
]},
"spacing": 27,
"bounds": "flush",
"resolve": {"scale": {"color": "independent"}},
"vconcat": [
{
 "width": 577, "height": 105,
 "data": {"name": "r"},
 "mark": {"type": "line", "strokeWidth": 1.1},
 "encoding": {
  "x": {"field": "t", "type": "quantitative", "scale": {"domain": [2010.27, 2016.52], "nice": false, "zero": false},
        "axis": {"values": [2010.3333,2010.4167,2010.5,2010.5833,2010.6667,2010.75,2010.8333,2010.9167,2011,2011.0833,2011.1667,2011.25,2011.3333,2011.4167,2011.5,2011.5833,2011.6667,2011.75,2011.8333,2011.9167,2012,2012.0833,2012.1667,2012.25,2012.3333,2012.4167,2012.5,2012.5833,2012.6667,2012.75,2012.8333,2012.9167,2013,2013.0833,2013.1667,2013.25,2013.3333,2013.4167,2013.5,2013.5833,2013.6667,2013.75,2013.8333,2013.9167,2014,2014.0833,2014.1667,2014.25,2014.3333,2014.4167,2014.5,2014.5833,2014.6667,2014.75,2014.8333,2014.9167,2015,2015.0833,2015.1667,2015.25,2015.3333,2015.4167,2015.5,2015.5833,2015.6667,2015.75,2015.8333,2015.9167,2016,2016.0833,2016.1667,2016.25,2016.3333,2016.4167,2016.5],
                 "labelExpr": "datum.value % 1 == 0 ? '' + datum.value : ''",
                 "labelPadding": 1}},
  "y": {"field": "a", "type": "quantitative", "scale": {"domain": [-9.7, 7.5], "nice": false, "zero": false},
        "axis": {"values": [-7.5, -5, -2.5, 0, 2.5, 5], "labelExpr": "datum.value == 5 ? '5' : datum.value == 0 ? '0' : datum.value == -5 ? '-5' : ''", "labelPadding": 2,
                 "grid": true, "gridColor": "#777777", "gridWidth": 0.8, "gridOpacity": {"condition": {"test": "datum.value == 0", "value": 1}, "value": 0}}},
  "order": {"field": "t", "type": "quantitative"},
  "color": {"datum": "主板", "scale": {"range": ["black"]},
            "legend": {"title": null, "orient": "none", "legendX": 11, "legendY": 2, "strokeColor": "black", "fillColor": "white", "padding": 2, "symbolType": "stroke", "symbolSize": 576, "symbolStrokeWidth": 1, "labelFont": "Noto Sans CJK SC", "labelFontSize": 11, "labelOffset": 2, "labelColor": "black"}}
 }
},
{
 "width": 577, "height": 105,
 "data": {"name": "r"},
 "mark": {"type": "line", "strokeWidth": 1.1},
 "encoding": {
  "x": {"field": "t", "type": "quantitative", "scale": {"domain": [2010.27, 2016.52], "nice": false, "zero": false},
        "axis": {"values": [2010.3333,2010.4167,2010.5,2010.5833,2010.6667,2010.75,2010.8333,2010.9167,2011,2011.0833,2011.1667,2011.25,2011.3333,2011.4167,2011.5,2011.5833,2011.6667,2011.75,2011.8333,2011.9167,2012,2012.0833,2012.1667,2012.25,2012.3333,2012.4167,2012.5,2012.5833,2012.6667,2012.75,2012.8333,2012.9167,2013,2013.0833,2013.1667,2013.25,2013.3333,2013.4167,2013.5,2013.5833,2013.6667,2013.75,2013.8333,2013.9167,2014,2014.0833,2014.1667,2014.25,2014.3333,2014.4167,2014.5,2014.5833,2014.6667,2014.75,2014.8333,2014.9167,2015,2015.0833,2015.1667,2015.25,2015.3333,2015.4167,2015.5,2015.5833,2015.6667,2015.75,2015.8333,2015.9167,2016,2016.0833,2016.1667,2016.25,2016.3333,2016.4167,2016.5],
                 "labelExpr": "datum.value % 1 == 0 ? '' + datum.value : ''",
                 "labelPadding": 1}},
  "y": {"field": "b", "type": "quantitative", "scale": {"domain": [-9.7, 7.5], "nice": false, "zero": false},
        "axis": {"values": [-7.5, -5, -2.5, 0, 2.5, 5], "labelExpr": "datum.value == 5 ? '5' : datum.value == 0 ? '0' : datum.value == -5 ? '-5' : ''", "labelPadding": 2,
                 "grid": true, "gridColor": "#777777", "gridWidth": 0.8, "gridOpacity": {"condition": {"test": "datum.value == 0", "value": 1}, "value": 0}}},
  "order": {"field": "t", "type": "quantitative"},
  "color": {"datum": "中小板", "scale": {"range": ["black"]},
            "legend": {"title": null, "orient": "none", "legendX": 10, "legendY": 2, "strokeColor": "black", "fillColor": "white", "padding": 2, "symbolType": "stroke", "symbolSize": 576, "symbolStrokeWidth": 1, "labelFont": "Noto Sans CJK SC", "labelFontSize": 11, "labelOffset": 2, "labelColor": "black"}}
 }
},
{
 "width": 577, "height": 105,
 "data": {"name": "r"},
 "mark": {"type": "line", "strokeWidth": 1.1},
 "encoding": {
  "x": {"field": "t", "type": "quantitative", "scale": {"domain": [2010.27, 2016.52], "nice": false, "zero": false},
        "axis": {"values": [2010.3333,2010.4167,2010.5,2010.5833,2010.6667,2010.75,2010.8333,2010.9167,2011,2011.0833,2011.1667,2011.25,2011.3333,2011.4167,2011.5,2011.5833,2011.6667,2011.75,2011.8333,2011.9167,2012,2012.0833,2012.1667,2012.25,2012.3333,2012.4167,2012.5,2012.5833,2012.6667,2012.75,2012.8333,2012.9167,2013,2013.0833,2013.1667,2013.25,2013.3333,2013.4167,2013.5,2013.5833,2013.6667,2013.75,2013.8333,2013.9167,2014,2014.0833,2014.1667,2014.25,2014.3333,2014.4167,2014.5,2014.5833,2014.6667,2014.75,2014.8333,2014.9167,2015,2015.0833,2015.1667,2015.25,2015.3333,2015.4167,2015.5,2015.5833,2015.6667,2015.75,2015.8333,2015.9167,2016,2016.0833,2016.1667,2016.25,2016.3333,2016.4167,2016.5],
                 "labelExpr": "datum.value % 1 == 0 ? '' + datum.value : ''",
                 "labelPadding": 1}},
  "y": {"field": "c", "type": "quantitative", "scale": {"domain": [-9.7, 7.5], "nice": false, "zero": false},
        "axis": {"values": [-7.5, -5, -2.5, 0, 2.5, 5], "labelExpr": "datum.value == 5 ? '5' : datum.value == 0 ? '0' : datum.value == -5 ? '-5' : ''", "labelPadding": 2,
                 "grid": true, "gridColor": "#777777", "gridWidth": 0.8, "gridOpacity": {"condition": {"test": "datum.value == 0", "value": 1}, "value": 0}}},
  "order": {"field": "t", "type": "quantitative"},
  "color": {"datum": "创业板", "scale": {"range": ["black"]},
            "legend": {"title": null, "orient": "none", "legendX": 10, "legendY": 2, "strokeColor": "black", "fillColor": "white", "padding": 2, "symbolType": "stroke", "symbolSize": 576, "symbolStrokeWidth": 1, "labelFont": "Noto Sans CJK SC", "labelFontSize": 11, "labelOffset": 2, "labelColor": "black"}}
 }
}
]
}
